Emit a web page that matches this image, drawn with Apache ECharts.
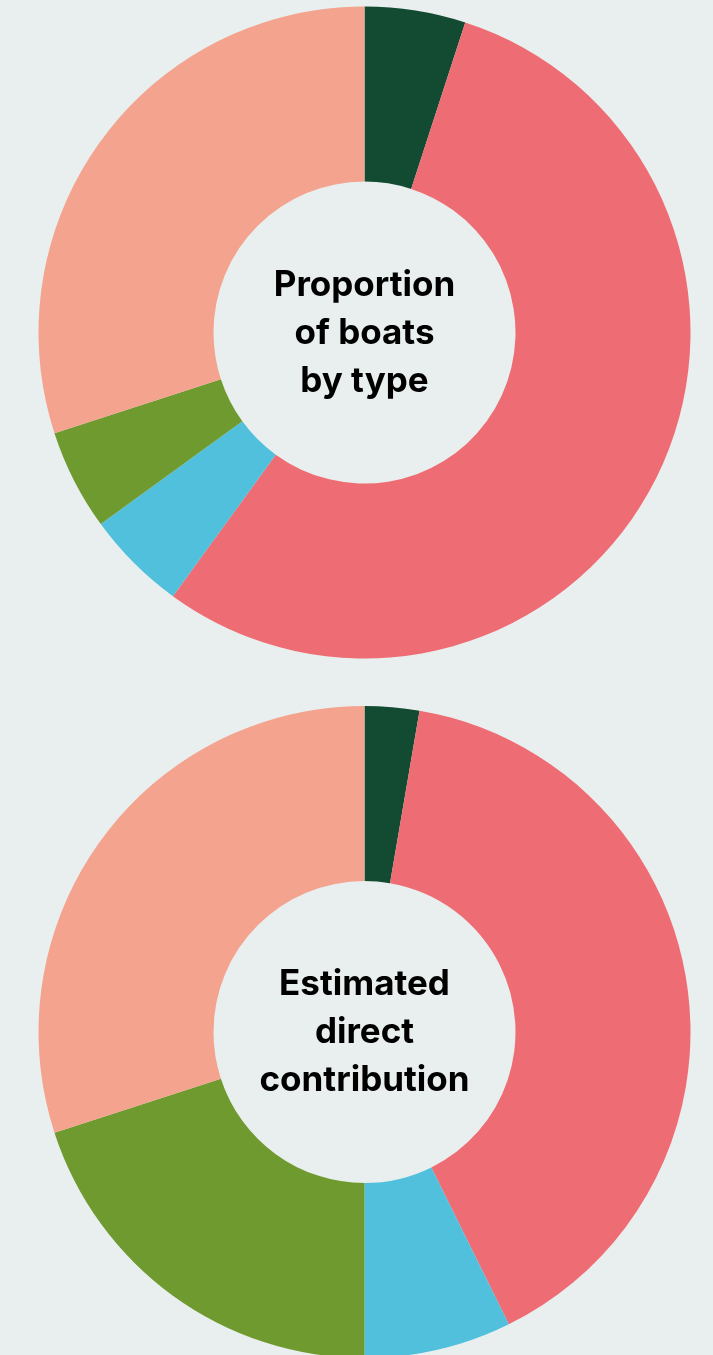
<!DOCTYPE html>
<html>
<head>
<meta charset="utf-8">
<script src="https://cdn.jsdelivr.net/npm/echarts@6/dist/echarts.min.js"></script>
<style>
html,body{margin:0;padding:0;background:#e9efee;}
#c{width:713px;height:1355px;}
</style>
</head>
<body>
<div id="c"></div>
<script>
const categories = ['Type A', 'Type B', 'Type C', 'Type D', 'Type E'];
const boatsShare = [5, 55, 5, 5, 30];
const contributionShare = [2.7, 40, 7.3, 20, 30];
const colors = ['#124a32', '#ee6c73', '#50c0dc', '#6f9a2f', '#f4a38e'];
const titles = ['Proportion\nof boats\nby type', 'Estimated\ndirect\ncontribution'];

function mk(vals) {
  return categories.map((n, i) => ({ name: n, value: vals[i], itemStyle: { color: colors[i] } }));
}
const chart = echarts.init(document.getElementById('c'), null, { renderer: 'canvas' });
const textStyle = { fontFamily: 'Inter', fontWeight: 'bold', fontSize: 35, lineHeight: 48, color: '#0a0a0a' };
chart.setOption({
  backgroundColor: '#e9efee',
  animation: false,
  series: [
    {
      type: 'pie', center: [364.5, 332.5], radius: [151, 326], startAngle: 90, clockwise: true,
      label: { show: false }, labelLine: { show: false }, emphasis: { disabled: true },
      itemStyle: { borderWidth: 0 },
      data: mk(boatsShare)
    },
    {
      type: 'pie', center: [364.5, 1032], radius: [151, 326], startAngle: 90, clockwise: true,
      label: { show: false }, labelLine: { show: false }, emphasis: { disabled: true },
      itemStyle: { borderWidth: 0 },
      data: mk(contributionShare)
    }
  ],
  graphic: [
    { type: 'text', x: 364.5, y: 333, style: Object.assign({ text: titles[0], align: 'center', verticalAlign: 'middle' }, textStyle) },
    { type: 'text', x: 364.5, y: 1032, style: Object.assign({ text: titles[1], align: 'center', verticalAlign: 'middle' }, textStyle) }
  ]
});
</script>
</body>
</html>
